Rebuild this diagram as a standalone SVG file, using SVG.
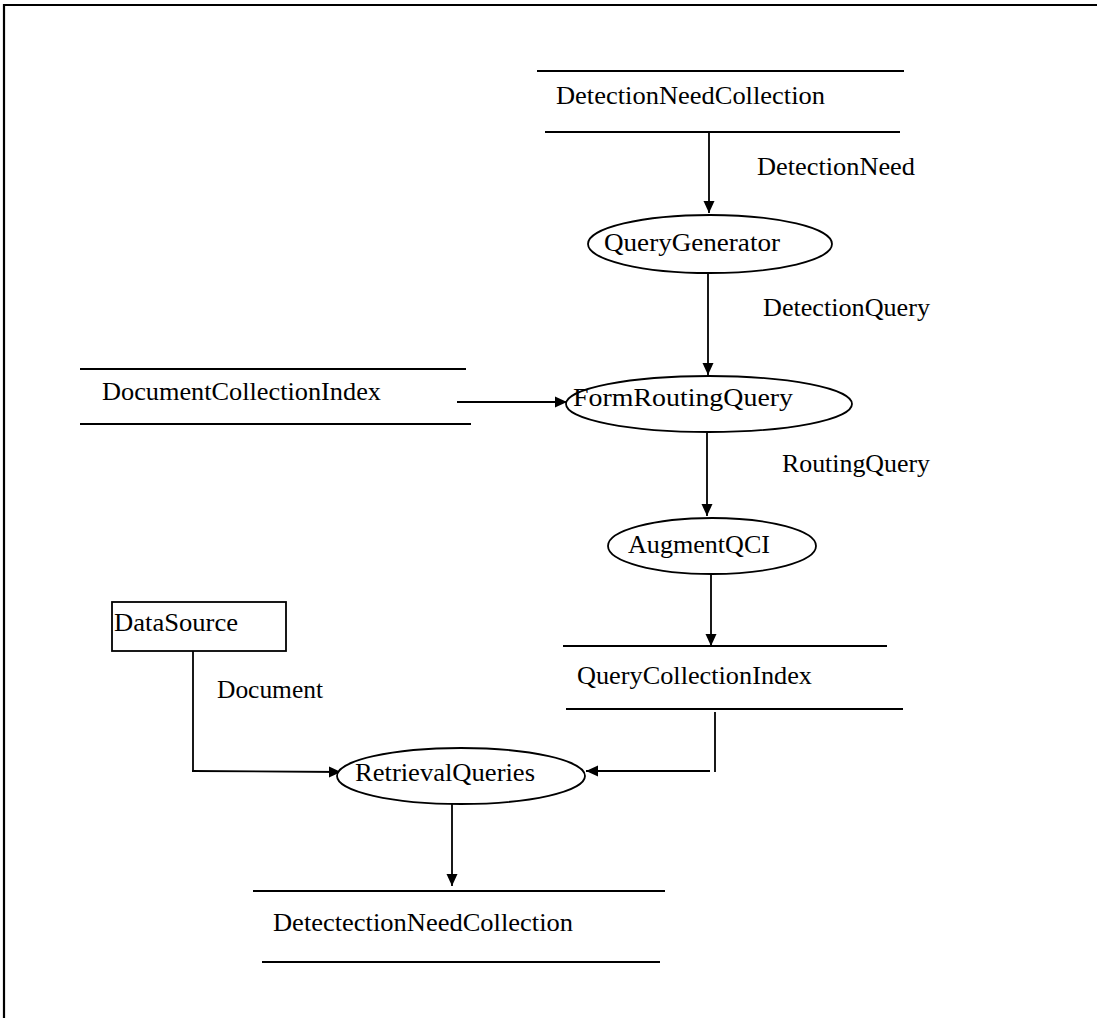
<svg xmlns="http://www.w3.org/2000/svg" width="1097" height="1018" viewBox="0 0 1097 1018">
<defs>
<style>
.ln{stroke:#000;stroke-width:1.8;fill:none}
.bd{stroke:#000;stroke-width:2.2;fill:none}
.el{stroke:#000;stroke-width:1.8;fill:#fff}
.t{font-family:"Liberation Serif","Times New Roman",serif;font-size:26px;fill:#000}
</style>
<marker id="ah" viewBox="0 0 12 12" refX="12" refY="6" markerWidth="12" markerHeight="12" markerUnits="userSpaceOnUse" orient="auto">
<path d="M0,0.5 L12,6 L0,11.5 Z" fill="#000"/>
</marker>
</defs>
<rect width="1097" height="1018" fill="#fff"/>
<path class="bd" d="M4,1018 L4,5 L1097,5"/>

<g id="connectors">
<line class="ln" x1="709" y1="132" x2="709" y2="213" marker-end="url(#ah)"/>
<line class="ln" x1="708" y1="273" x2="708" y2="375" marker-end="url(#ah)"/>
<line class="ln" x1="457" y1="402" x2="567" y2="402" marker-end="url(#ah)"/>
<line class="ln" x1="707" y1="433" x2="707" y2="516" marker-end="url(#ah)"/>
<line class="ln" x1="711" y1="572" x2="711" y2="646" marker-end="url(#ah)"/>
<line class="ln" x1="715" y1="712" x2="715" y2="772"/>
<line class="ln" x1="710" y1="771" x2="586" y2="771" marker-end="url(#ah)"/>
<line class="ln" x1="193" y1="651" x2="193" y2="772"/>
<line class="ln" x1="192" y1="771" x2="341" y2="772" marker-end="url(#ah)"/>
<line class="ln" x1="452" y1="804" x2="452" y2="886" marker-end="url(#ah)"/>
<text class="t" x="757" y="175" textLength="158" lengthAdjust="spacingAndGlyphs">DetectionNeed</text>
<text class="t" x="763" y="316" textLength="167" lengthAdjust="spacingAndGlyphs">DetectionQuery</text>
<text class="t" x="782" y="472" textLength="148" lengthAdjust="spacingAndGlyphs">RoutingQuery</text>
<text class="t" x="217" y="698" textLength="106" lengthAdjust="spacingAndGlyphs">Document</text>
</g>

<g id="DetectionNeedCollection">
<line class="ln" x1="537" y1="71" x2="904" y2="71"/>
<line class="ln" x1="545" y1="132" x2="900" y2="132"/>
<text class="t" x="556" y="104" textLength="269" lengthAdjust="spacingAndGlyphs">DetectionNeedCollection</text>
</g>

<g id="QueryGenerator">
<ellipse class="el" cx="710" cy="244" rx="122" ry="29"/>
<text class="t" x="604" y="251" textLength="176" lengthAdjust="spacingAndGlyphs">QueryGenerator</text>
</g>

<g id="DocumentCollectionIndex">
<line class="ln" x1="80" y1="369" x2="466" y2="369"/>
<line class="ln" x1="80" y1="424" x2="471" y2="424"/>
<text class="t" x="102" y="400" textLength="279" lengthAdjust="spacingAndGlyphs">DocumentCollectionIndex</text>
</g>

<g id="FormRoutingQuery">
<ellipse class="el" cx="709" cy="404" rx="143" ry="28"/>
<text class="t" x="573" y="406" textLength="220" lengthAdjust="spacingAndGlyphs">FormRoutingQuery</text>
</g>

<g id="AugmentQCI">
<ellipse class="el" cx="712" cy="546" rx="104" ry="28"/>
<text class="t" x="628" y="553" textLength="142" lengthAdjust="spacingAndGlyphs">AugmentQCI</text>
</g>

<g id="QueryCollectionIndex">
<line class="ln" x1="563" y1="646" x2="887" y2="646"/>
<line class="ln" x1="566" y1="709" x2="903" y2="709"/>
<text class="t" x="577" y="684" textLength="235" lengthAdjust="spacingAndGlyphs">QueryCollectionIndex</text>
</g>

<g id="DataSource">
<rect class="ln" x="112" y="602" width="174" height="49"/>
<text class="t" x="114" y="631" textLength="124" lengthAdjust="spacingAndGlyphs">DataSource</text>
</g>

<g id="RetrievalQueries">
<ellipse class="el" cx="461" cy="776" rx="124" ry="28"/>
<text class="t" x="355" y="781" textLength="180" lengthAdjust="spacingAndGlyphs">RetrievalQueries</text>
</g>

<g id="DetectectionNeedCollection">
<line class="ln" x1="253" y1="891" x2="665" y2="891"/>
<line class="ln" x1="262" y1="962" x2="660" y2="962"/>
<text class="t" x="273" y="931" textLength="300" lengthAdjust="spacingAndGlyphs">DetectectionNeedCollection</text>
</g>
</svg>
